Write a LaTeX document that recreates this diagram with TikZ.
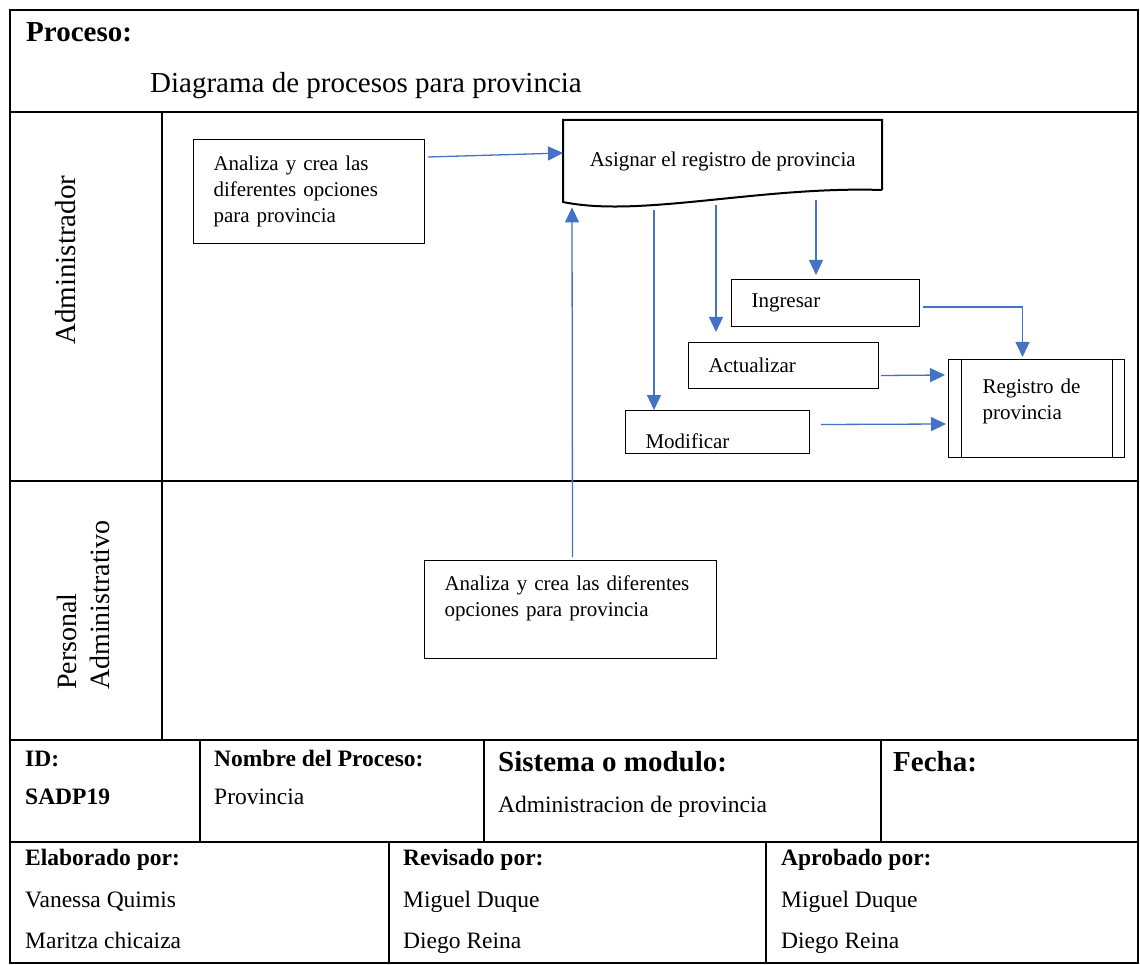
\documentclass[tikz,border=0pt]{standalone}
\usepackage{fontspec}
\setmainfont{Liberation Serif}
\usetikzlibrary{arrows.meta,positioning}
\definecolor{azul}{HTML}{4472C4}
\newcommand{\tnorm}{\fontsize{21}{26}\selectfont}
\newcommand{\tgrande}{\fontsize{29}{34}\selectfont}
\newcommand{\ttabla}{\fontsize{23.5}{28}\selectfont}
\tikzset{
  marco/.style={line width=1.6pt},
  proc/.style={draw, line width=1pt, anchor=north west, align=left, inner xsep=20pt, inner ysep=0pt, font=\tnorm},
  flecha/.style={color=azul, line width=1.3pt, -{Triangle[length=15pt,width=14pt]}},
  celda/.style={anchor=base west, inner sep=0pt, font=\ttabla},
  cab/.style={celda, font=\ttabla\bfseries},
}
\begin{document}
\begin{tikzpicture}[x=1pt, y=-1pt]
\useasboundingbox (0,0) rectangle (1140,965);
% marco y carriles
\draw[marco] (10,10) rectangle (1138,963);
\draw[marco] (10,112) -- (1138,112);
\draw[marco] (10,481) -- (1138,481);
\draw[marco] (162,112) -- (162,740);
\draw[marco] (10,740) -- (1138,740);
\draw[marco] (10,842) -- (1138,842);
\draw[marco] (200,740) -- (200,842);
\draw[marco] (484,740) -- (484,842);
\draw[marco] (881,740) -- (881,842);
\draw[marco] (389,842) -- (389,963);
\draw[marco] (766,842) -- (766,963);

\node[anchor=base west, inner sep=0pt, font=\tgrande\bfseries] (proceso) at (26,42) {Proceso:};
\node[anchor=base west, inner sep=0pt, font=\tgrande] (titulo) at (150,93) {Diagrama de procesos para provincia};
\node[rotate=90, anchor=base west, inner sep=0pt, font=\tgrande] (admin) at (75,345) {Administrador};
\node[rotate=90, anchor=north west, inner sep=0pt, align=left, font=\fontsize{28}{33}\selectfont] (personal) at (57,690) {Personal\\Administrativo};

% diagrama
\node[proc, text width=191pt, minimum height=104pt] (analiza) at (193,139) {Analiza y crea las\\diferentes opciones\\para provincia};
\node[anchor=north west, inner sep=0pt, minimum width=319pt, minimum height=82pt, font=\tnorm] (asignar) at (563,120) {Asignar el registro de provincia};
\draw[line width=2pt, line join=miter] (882,190) -- (882,120) -- (563,120) -- (563,202) .. controls (640,218) and (760,186) .. (882,190);
\node[proc, text width=148pt, minimum height=47pt] (ingresar) at (731,279) {Ingresar};
\node[proc, text width=150pt, minimum height=46pt] (actualizar) at (688,342) {Actualizar};
\node[proc, text width=144pt, minimum height=43pt, text height=32pt, text depth=0pt] (modificar) at (625,410) {Modificar};
\node[proc, inner xsep=34pt, text width=108pt, minimum height=98pt, text depth=45pt] (registro) at (948,359) {Registro de\\provincia};
\draw[line width=1pt] ([xshift=13pt]registro.north west) -- ([xshift=13pt]registro.south west);
\draw[line width=1pt] ([xshift=-13pt]registro.north east) -- ([xshift=-13pt]registro.south east);
\node[proc, text width=252pt, minimum height=98pt] (analiza2) at (424,560) {Analiza y crea las diferentes\\opciones para provincia\\\mbox{}};

\coordinate (d1) at ([xshift=91pt,yshift=-8pt]asignar.south west);
\coordinate (d2) at ([xshift=153pt,yshift=-3pt]asignar.south west);
\coordinate (d3) at ([xshift=253pt,yshift=2pt]asignar.south west);
\draw[flecha] ([xshift=3pt,yshift=-18pt]analiza.north east) -- ([yshift=-33pt]asignar.north west);
\draw[flecha] ([xshift=2pt,yshift=3pt]analiza2.north) -- ([xshift=9pt,yshift=-5pt]asignar.south west);
\draw[flecha] (d1) -- (d1 |- modificar.north);
\draw[flecha] (d2) -- ([yshift=10pt]d2 |- actualizar.north);
\draw[flecha] (d3) -- ([yshift=4pt]d3 |- ingresar.north);
\draw[flecha] ([xshift=3pt,yshift=-4pt]ingresar.east) -| ([xshift=-14pt,yshift=2pt]registro.north);
\draw[flecha] ([xshift=2pt,yshift=-10pt]actualizar.east) -- ([xshift=-3pt,yshift=-16pt]registro.north west);
\draw[flecha] ([xshift=11pt,yshift=7.5pt]modificar.east) -- ([xshift=-2pt,yshift=-65pt]registro.north west);

% tabla inferior
\node[cab] (id) at (25,766) {ID:};
\node[cab] (idval) at (25,804) {SADP19};
\node[cab] (nombre) at (214,766) {Nombre del Proceso:};
\node[celda] (nombreval) at (214,804) {Provincia};
\node[cab, font=\tgrande\bfseries] (sistema) at (498,771) {Sistema o modulo:};
\node[celda] (sistemaval) at (498,812) {Administracion de provincia};
\node[cab, font=\tgrande\bfseries] (fecha) at (893,771) {Fecha:};
\node[cab] (elab) at (25,865) {Elaborado por:};
\node[celda] (elab1) at (25,907) {Vanessa Quimis};
\node[celda] (elab2) at (25,948) {Maritza chicaiza};
\node[cab] (rev) at (403,865) {Revisado por:};
\node[celda] (rev1) at (403,907) {Miguel Duque};
\node[celda] (rev2) at (403,948) {Diego Reina};
\node[cab] (apr) at (781,865) {Aprobado por:};
\node[celda] (apr1) at (781,907) {Miguel Duque};
\node[celda] (apr2) at (781,948) {Diego Reina};
\end{tikzpicture}
\end{document}
